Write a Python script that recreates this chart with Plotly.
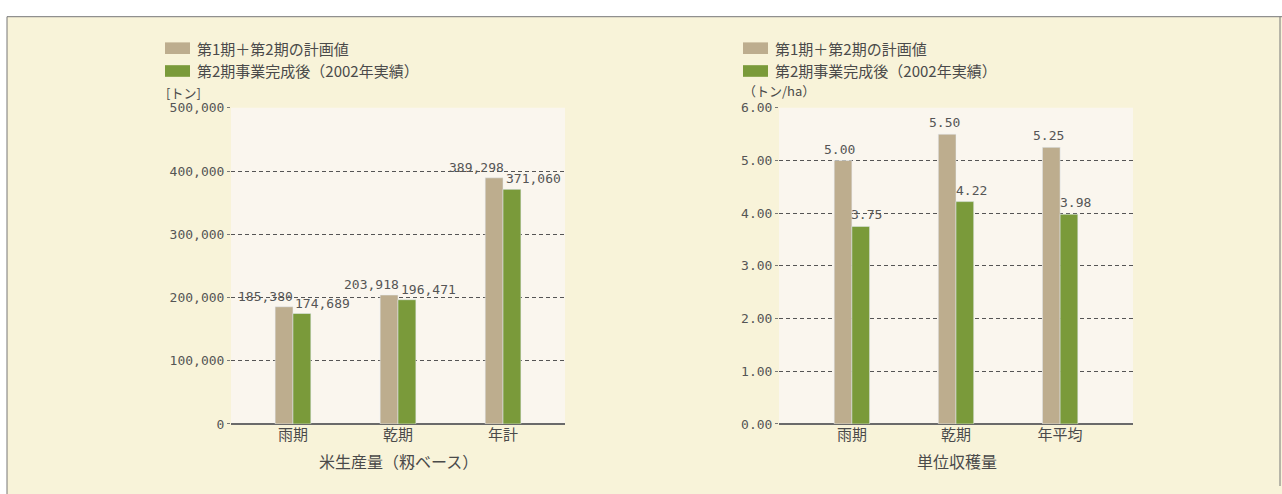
import plotly.graph_objects as go

W, H = 1282, 494

# ---- data ----
cats_left = ["雨期", "乾期", "年計"]
plan_left = [185380, 203918, 389298]
actual_left = [174689, 196471, 371060]

cats_right = ["雨期", "乾期", "年平均"]
plan_right = [5.00, 5.50, 5.25]
actual_right = [3.75, 4.22, 3.98]

legend_names = ["第1期＋第2期の計画値", "第2期事業完成後（2002年実績）"]
left_ticks = [0, 100000, 200000, 300000, 400000, 500000]
right_ticks = [0, 1, 2, 3, 4, 5, 6]

TAN = "#BDAD8E"
GREEN = "#7A9A3A"
CREAM = "#F8F3D9"
PLOTBG = "#FAF6EE"
TXT = "#4a4a4a"
JP = "Noto Sans CJK JP"
NUM = "DejaVu Sans Mono"


def px_x(p):
    return p / W


def px_y(p):
    return 1 - p / H


fig = go.Figure()
fig.add_trace(go.Bar(x=cats_left, y=plan_left, marker_color=TAN, name=legend_names[0],
                     xaxis="x", yaxis="y", showlegend=False))
fig.add_trace(go.Bar(x=cats_left, y=actual_left, marker_color=GREEN, name=legend_names[1],
                     xaxis="x", yaxis="y", showlegend=False))
fig.add_trace(go.Bar(x=cats_right, y=plan_right, marker_color=TAN, name=legend_names[0],
                     xaxis="x2", yaxis="y2", showlegend=False))
fig.add_trace(go.Bar(x=cats_right, y=actual_right, marker_color=GREEN, name=legend_names[1],
                     xaxis="x2", yaxis="y2", showlegend=False))

ydom = [px_y(430), px_y(104)]
common_y = dict(showgrid=True, gridcolor="#555555", griddash="4px,3px", gridwidth=1,
                zeroline=True, zerolinecolor="#6a6a6a", zerolinewidth=2,
                ticks="outside", ticklen=3, tickcolor="#777777",
                tickfont=dict(family=NUM, size=13, color="#555555"), showline=False)
common_x = dict(showgrid=False, zeroline=False, showline=False, ticks="",
                tickfont=dict(family=JP, size=15, color=TXT))

layout = dict(
    width=W, height=H, margin=dict(l=0, r=0, t=0, b=0),
    paper_bgcolor="white", plot_bgcolor="rgba(0,0,0,0)",
    barmode="group", bargap=0.66, bargroupgap=0,
    xaxis=dict(domain=[px_x(231), px_x(565)], anchor="y", range=[-0.59, 2.59], **common_x),
    yaxis=dict(domain=ydom, anchor="x", range=[0, 500000], tickvals=left_ticks,
               ticktext=[f"{v:,}" for v in left_ticks], **common_y),
    xaxis2=dict(domain=[px_x(779), px_x(1133)], anchor="y2", range=[-0.70, 2.70], **common_x),
    yaxis2=dict(domain=ydom, anchor="x2", range=[0, 6], tickvals=right_ticks,
                ticktext=[f"{v:.2f}" for v in right_ticks], **common_y),
)
fig.update_layout(**layout)

shapes = [
    dict(type="rect", xref="paper", yref="paper", x0=px_x(7), x1=px_x(1300), y0=px_y(10), y1=px_y(530),
         fillcolor=CREAM, line=dict(color="#777777", width=1), layer="below"),
    dict(type="rect", xref="x domain", yref="y domain", x0=0, x1=1, y0=0, y1=1,
         fillcolor=PLOTBG, line=dict(width=0), layer="below"),
    dict(type="rect", xref="x2 domain", yref="y2 domain", x0=0, x1=1, y0=0, y1=1,
         fillcolor=PLOTBG, line=dict(width=0), layer="below"),
    dict(type="line", xref="paper", yref="paper", x0=px_x(1280), x1=px_x(1280), y0=px_y(10), y1=0,
         line=dict(color="#777777", width=1)),
]
annotations = []

# legends drawn as shapes + text
for lx in (165, 743):
    for i, (col, yc) in enumerate([(TAN, 42.5), (GREEN, 66)]):
        shapes.append(dict(type="rect", xref="paper", yref="paper",
                           x0=px_x(lx), x1=px_x(lx + 25), y0=px_y(yc - 6), y1=px_y(yc + 6),
                           fillcolor=col, line=dict(width=0)))
        annotations.append(dict(xref="paper", yref="paper", x=px_x(lx + 30), y=px_y(yc),
                                xanchor="left", yanchor="middle", showarrow=False,
                                text=legend_names[i], font=dict(family=JP, size=15, color=TXT)))

# unit labels
annotations.append(dict(xref="paper", yref="paper", x=px_x(164), y=px_y(88), xanchor="left",
                        yanchor="middle", showarrow=False, text="[トン]",
                        font=dict(family=JP, size=13, color=TXT)))
annotations.append(dict(xref="paper", yref="paper", x=px_x(741), y=px_y(86), xanchor="left",
                        yanchor="middle", showarrow=False, text="（トン/ha）",
                        font=dict(family=JP, size=13, color=TXT)))

# x titles
annotations.append(dict(xref="paper", yref="paper", x=px_x(398), y=px_y(468), xanchor="center",
                        yanchor="middle", showarrow=False, text="米生産量（籾ベース）",
                        font=dict(family=JP, size=16, color=TXT)))
annotations.append(dict(xref="paper", yref="paper", x=px_x(957), y=px_y(468), xanchor="center",
                        yanchor="middle", showarrow=False, text="単位収穫量",
                        font=dict(family=JP, size=16, color=TXT)))

# data labels
lab_font = dict(family=NUM, size=13, color="#555555")
for c, p, a in zip(cats_left, plan_left, actual_left):
    annotations.append(dict(x=c, y=p, xref="x", yref="y", xshift=-27, yshift=1, yanchor="bottom",
                            showarrow=False, text=f"{p:,}", font=lab_font))
    annotations.append(dict(x=c, y=a, xref="x", yref="y", xshift=30, yshift=1, yanchor="bottom",
                            showarrow=False, text=f"{a:,}", font=lab_font))
for c, p, a in zip(cats_right, plan_right, actual_right):
    annotations.append(dict(x=c, y=p, xref="x2", yref="y2", xshift=-12, yshift=2, yanchor="bottom",
                            showarrow=False, text=f"{p:.2f}", font=lab_font))
    annotations.append(dict(x=c, y=a, xref="x2", yref="y2", xshift=15, yshift=2, yanchor="bottom",
                            showarrow=False, text=f"{a:.2f}", font=lab_font))

fig.update_layout(shapes=shapes, annotations=annotations)
fig.write_html("out.html")
